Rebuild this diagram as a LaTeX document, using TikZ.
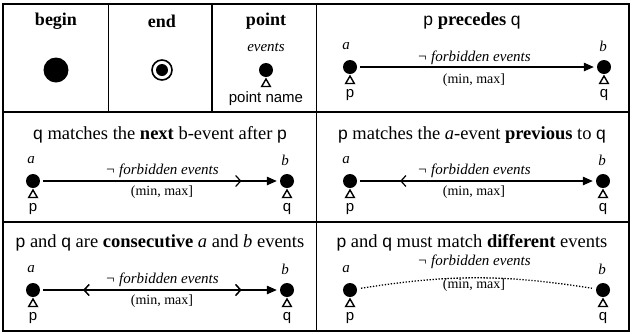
\documentclass[tikz,border=0pt]{standalone}
\usepackage{fontspec}
\setmainfont{Liberation Serif}
\setsansfont{Liberation Sans}
\usetikzlibrary{arrows.meta,shapes.geometric,decorations.markings}

\tikzset{
  frame/.style={line width=1.8pt},
  title/.style={font=\fontsize{18.5}{20}\selectfont, inner sep=0pt},
  head/.style={font=\fontsize{18}{20}\selectfont\bfseries, inner sep=0pt},
  lab/.style={font=\fontsize{15}{17}\selectfont\itshape, inner sep=0pt},
  cond/.style={font=\fontsize{14}{16}\selectfont, inner sep=0pt},
  pname/.style={font=\fontsize{15}{17}\selectfont\sffamily, inner sep=0pt},
  ev/.style={circle, fill=black, minimum size=14pt, inner sep=0pt},
  tri/.style={regular polygon, regular polygon sides=3, draw=black, line width=1.4pt,
              minimum size=10pt, inner sep=0pt},
  link/.style={line width=1.2pt, -{Triangle[length=10pt,width=8.5pt]}, shorten >=3pt, shorten <=3pt},
  fwd/.style={postaction={decorate}, decoration={markings,
      mark=at position #1 with {\arrow{Straight Barb[length=5pt,width=11pt,line width=1.2pt]}}}},
  bwd/.style={postaction={decorate}, decoration={markings,
      mark=at position #1 with {\arrowreversed{Straight Barb[length=5pt,width=11pt,line width=1.2pt]}}}},
  dotline/.style={line width=1.3pt, dash pattern=on 1.3pt off 1.7pt, shorten >=4pt, shorten <=4pt},
}

\newcommand{\pq}[1]{\textsf{\fontsize{17.5}{19}\selectfont #1}}

% one event: dot, triangle marker, italic event label and point name
\newcommand{\evpoint}[6]{%
  \node[ev] (#1) at (#2,#3) {};
  \node[tri] (#1t) at (#2,#3+14) {};
  \node[pname] (#1n) at (#2,#3+28) {#5};
  \node[lab] (#1l) at (#2+#6,#3-21) {#4};
}

\begin{document}
\begin{tikzpicture}[x=1pt,y=-1pt]
\useasboundingbox (0,0) rectangle (632,333);

% table grid
\draw[frame] (3,4) rectangle (629,331);
\draw[frame] (3,112) -- (629,112);
\draw[frame] (3,222) -- (629,222);
\draw[frame] (108.5,4) -- (108.5,112);
\draw[frame] (212,4) -- (212,112);
\draw[frame] (316.5,4) -- (316.5,331);

% row 1: begin / end / point
\node[head] (hbeg) at (56,21) {begin};
\node[circle, fill=black, minimum size=25pt, inner sep=0pt] (beg) at (56,70) {};

\node[head] (hend) at (162,21) {end};
\node[circle, draw=black, line width=1.6pt, minimum size=20pt, inner sep=0pt] (endo) at (162,70) {};
\node[circle, fill=black, minimum size=12pt, inner sep=0pt] (endi) at (162,70) {};

\node[head] (hpt) at (266,21) {point};
\node[lab] (hev) at (266,47) {events};
\node[ev] (pt) at (266,70) {};
\node[tri] (ptt) at (266,84) {};
\node[pname] (ptn) at (266,99) {point name};

% row 1: p precedes q
\node[title] (t1) at (472,21) {\pq{p} \textbf{precedes} \pq{q}};
\evpoint{a1}{350}{67}{a}{p}{-4}
\evpoint{b1}{604}{67}{b}{q}{-1}
\draw[link] (a1) -- (b1);
\node[lab] (f1) at (474,58) {¬ forbidden events};
\node[cond] (m1) at (474,80) {(min, max]};

% row 2: next b-event
\node[title] (t2) at (160,135) {\pq{q} matches the \textbf{next} b-event after \pq{p}};
\evpoint{a2}{33}{181}{a}{p}{-2}
\evpoint{b2}{287}{181}{b}{q}{-2}
\draw[link, fwd=0.84] (a2) -- (b2);
\node[lab] (f2) at (162,171) {¬ forbidden events};
\node[cond] (m2) at (162,192) {(min, max]};

% row 2: previous a-event
\node[title] (t3) at (472,135) {\pq{p} matches the \textit{a}-event \textbf{previous} to \pq{q}};
\evpoint{a3}{350}{181}{a}{p}{-4}
\evpoint{b3}{603}{181}{b}{q}{-1}
\draw[link, bwd=0.18] (a3) -- (b3);
\node[lab] (f3) at (474,171) {¬ forbidden events};
\node[cond] (m3) at (474,192) {(min, max]};

% row 3: consecutive events
\node[title] (t4) at (160,243) {\pq{p} and \pq{q} are \textbf{consecutive} \textit{a} and \textit{b} events};
\evpoint{a4}{33}{290}{a}{p}{-2}
\evpoint{b4}{287}{290}{b}{q}{-2}
\draw[link, bwd=0.18, fwd=0.84] (a4) -- (b4);
\node[lab] (f4) at (162,280) {¬ forbidden events};
\node[cond] (m4) at (162,301) {(min, max]};

% row 3: different events
\node[title] (t5) at (472,243) {\pq{p} and \pq{q} must match \textbf{different} events};
\evpoint{a5}{350}{290}{a}{p}{-4}
\evpoint{b5}{603}{290}{b}{q}{-1}
\draw[dotline] (a5) to[bend left=9] (b5);
\node[lab] (f5) at (474,262) {¬ forbidden events};
\node[cond] (m5) at (474,285) {(min, max]};
\end{tikzpicture}
\end{document}
